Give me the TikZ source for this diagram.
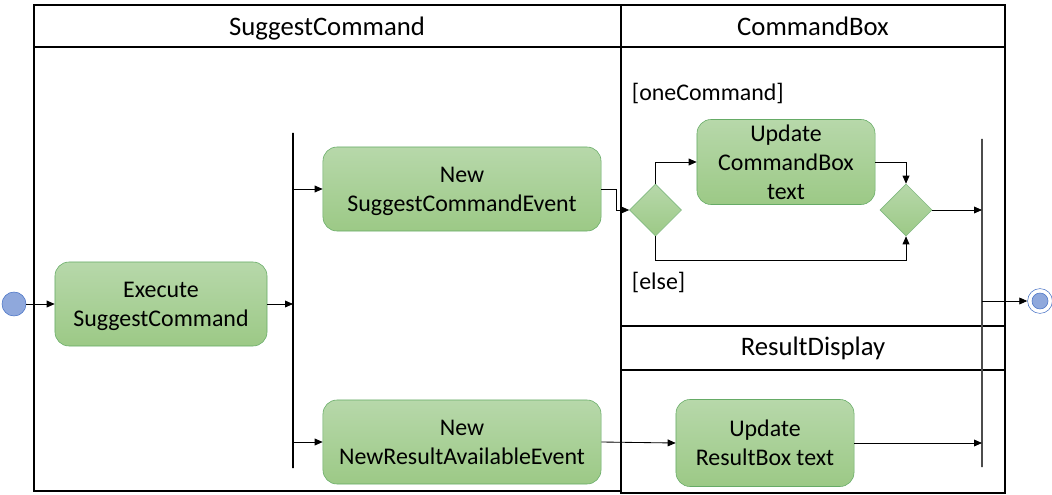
\documentclass[tikz,border=0pt]{standalone}
\usepackage{fontspec}
\setmainfont{Carlito}
\usetikzlibrary{arrows.meta,positioning,shapes.geometric}

\begin{document}
\begin{tikzpicture}[x=0.025cm, y=-0.025cm, font=\fontsize{17}{20.5}\selectfont,
act/.style={draw=green!45!black!60, rounded corners=10pt, align=center, top color=actTop, bottom color=actBot, inner sep=2pt, text depth=0pt},
dec/.style={diamond, draw=green!45!black!50, top color=actTop, bottom color=actBot, minimum size=1.3cm, inner sep=0pt},
bar/.style={draw, line width=0.9pt, inner sep=0pt, minimum width=0pt},
lane/.style={draw, line width=0.9pt},
head/.style={font=\fontsize{19}{22}\selectfont, text depth=0pt},
arr/.style={-{Triangle[length=2mm,width=1.7mm]}, line width=0.6pt}]
\definecolor{actTop}{HTML}{B7D8AA}
\definecolor{actBot}{HTML}{9CC986}
\definecolor{startBlue}{HTML}{8FA8DC}
\definecolor{startLine}{HTML}{4A74C6}
\useasboundingbox (0,0) rectangle (1052,494);
% swimlanes
\draw[lane] (34,5) rectangle (621,491);
\draw[lane] (34,47) -- (621,47);
\draw[lane] (621,5) rectangle (1005,326);
\draw[lane] (621,47) -- (1005,47);
\draw[lane] (621,326) rectangle (1005,493);
\draw[line width=1.6pt] (621,326) -- (1005,326) (621,370) -- (1005,370);
\node[head] (suggestLane) at (327,26) {SuggestCommand};
\node[head] (cmdLane) at (813,26) {CommandBox};
\node[head] (resultLane) at (813,346) {ResultDisplay};
% activities
\node[circle, draw=startLine, fill=startBlue, minimum size=0.6cm, inner sep=0pt] (start) at (14,304) {};
\node[act, minimum width=5.3cm, minimum height=2.1cm] (exec) at (161,304) {Execute\\SuggestCommand};
\node[bar, minimum height=8.375cm] (fork) at (293,300.5) {};
\node[act, minimum width=6.95cm, minimum height=2.1cm] (scEvent) at (462,189) {New\\SuggestCommandEvent};
\node[act, minimum width=6.95cm, minimum height=2.1cm] (nraEvent) at (462,442) {New\\NewResultAvailableEvent};
\node[dec] (split) at (655.5,210) {};
\node[act, minimum width=4.45cm, minimum height=2.125cm] (cmdText) at (786,162) {Update\\CommandBox\\text};
\node[dec] (merge) at (906,210) {};
\node[act, minimum width=4.45cm, minimum height=2.175cm] (resultText) at (765,443) {Update\\ResultBox text};
\node[bar, draw=black!70, minimum height=8.2cm] (join) at (982,303) {};
\node[circle, draw=startLine, fill=white, minimum size=0.62cm, inner sep=0pt] (finish) at (1040,301) {};
\node[circle, draw=startLine, fill=startBlue, minimum size=0.4cm, inner sep=0pt] at (finish) {};
% guards
\node[anchor=west] (oneCmd) at (627,93) {[oneCommand]};
\node[anchor=west] (elseG) at (627,282) {[else]};
% flows
\draw[arr] (start) -- (start -| exec.west);
\draw[arr] (exec) -- (exec -| fork);
\draw[arr] (scEvent -| fork) -- (scEvent.west);
\draw[arr] (nraEvent -| fork) -- (nraEvent.west);
\draw[arr] (scEvent.east) -- ++(15,0) |- (split.west);
\draw[arr] (split.north) |- (cmdText.west);
\draw[arr] (cmdText.east) -| (merge.north);
\draw[arr] (split.south) -- ++(0,24) -| (merge.south);
\draw[arr] (merge.east) -- (merge -| join);
\draw[arr] (nraEvent.east) -- (resultText.west);
\draw[arr] (resultText.east) -- (resultText -| join);
\draw[arr] (finish -| join) -- (finish.west);
\end{tikzpicture}
\end{document}
